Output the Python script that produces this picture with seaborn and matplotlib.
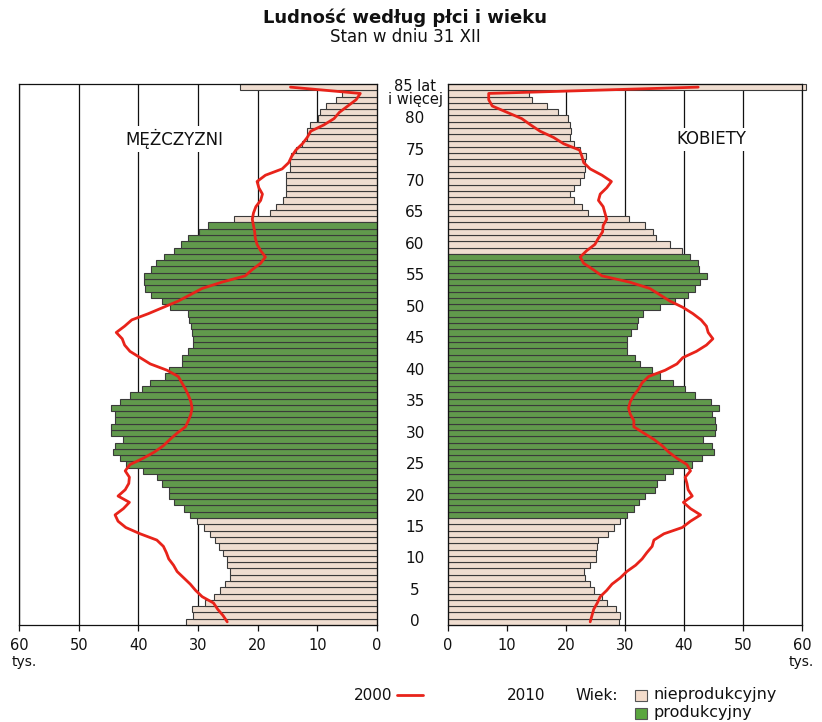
import numpy as np
import pandas as pd
import matplotlib
matplotlib.use('Agg')
import matplotlib.pyplot as plt
import matplotlib.transforms as mtransforms
from matplotlib.patches import Rectangle
from matplotlib.lines import Line2D
import seaborn as sns

sns.set_style('white')
plt.rcParams['font.family'] = ['DejaVu Sans']
plt.rcParams['text.color'] = '#111111'
plt.rcParams['xtick.labelcolor'] = '#111111'

# data (thousands of people), ages 0 .. 85 (last = 85 lat i wiecej)
ages = list(range(86))
age_ticks = [0, 5, 10, 15, 20, 25, 30, 35, 40, 45, 50, 55, 60, 65, 70, 75, 80]
x_ticks = [0, 10, 20, 30, 40, 50, 60]

male_2010 = [32.0, 30.8, 31.0, 28.8, 27.4, 26.3, 25.4, 24.7, 24.6, 25.1,
             25.1, 25.8, 26.5, 27.2, 28.0, 29.0, 30.2, 31.3, 32.4, 34.1,
             34.9, 34.9, 36.1, 36.9, 39.2, 42.0, 43.1, 44.2, 43.9, 42.6,
             44.5, 44.5, 43.9, 43.9, 44.5, 43.1, 41.4, 39.4, 38.0, 35.5,
             34.9, 32.7, 32.6, 31.7, 30.9, 30.9, 31.0, 31.2, 31.5, 31.7,
             34.7, 36.0, 37.9, 38.8, 39.0, 39.0, 37.9, 37.1, 35.7, 34.0,
             32.9, 31.7, 29.8, 28.4, 23.9, 17.9, 17.0, 15.8, 15.2, 15.2,
             15.3, 15.2, 14.6, 14.6, 14.4, 13.5, 12.6, 11.8, 11.8, 11.3,
             9.9, 9.6, 8.5, 6.8, 5.9, 22.9]

female_2010 = [28.9, 29.2, 28.5, 26.9, 26.1, 24.7, 24.1, 23.3, 23.0, 24.1,
               25.0, 25.0, 25.3, 25.5, 27.2, 28.1, 29.1, 30.3, 31.5, 32.3,
               33.4, 35.1, 35.4, 36.8, 38.2, 41.4, 43.1, 45.1, 44.7, 43.3,
               45.3, 45.5, 45.3, 44.7, 45.9, 44.5, 41.9, 40.2, 38.2, 36.0,
               34.6, 32.6, 31.7, 30.3, 30.3, 30.3, 31.1, 32.0, 32.2, 33.1,
               35.9, 38.4, 40.7, 41.8, 42.7, 43.9, 42.5, 42.4, 41.0, 39.7,
               37.6, 35.2, 34.8, 33.4, 30.6, 23.8, 22.7, 21.3, 20.6, 21.3,
               22.3, 23.0, 23.2, 23.2, 23.4, 22.3, 21.4, 20.6, 20.8, 20.7,
               20.4, 18.6, 16.7, 14.2, 13.8, 60.6]

male_2000 = [25.1, 25.8, 26.7, 27.4, 29.3, 30.4, 31.3, 32.4, 33.5, 34.1,
             34.9, 35.3, 35.8, 36.9, 39.7, 42.1, 43.4, 43.9, 42.5, 41.5,
             43.4, 42.2, 41.6, 41.5, 42.2, 41.4, 39.2, 37.3, 35.8, 34.7,
             33.5, 32.1, 31.6, 31.2, 31.0, 31.2, 31.6, 32.1, 32.7, 33.3,
             35.2, 38.0, 39.7, 41.4, 42.3, 42.7, 43.7, 42.3, 41.1, 38.3,
             35.8, 33.3, 31.3, 29.3, 26.0, 22.1, 20.9, 19.5, 18.7, 19.5,
             20.1, 20.4, 20.5, 20.7, 20.9, 20.7, 20.3, 19.5, 19.2, 19.8,
             20.1, 18.7, 15.9, 14.8, 14.3, 13.6, 12.5, 11.7, 11.1, 8.9,
             7.2, 6.3, 4.9, 3.5, 2.8, 14.5]

female_2000 = [24.1, 24.4, 24.7, 25.3, 25.8, 26.9, 27.8, 29.2, 30.3, 31.8,
               32.9, 33.7, 34.6, 34.9, 36.6, 39.7, 41.1, 42.8, 41.1, 39.9,
               41.4, 40.7, 40.5, 40.2, 41.1, 40.5, 38.8, 37.4, 36.3, 34.9,
               33.2, 31.5, 31.5, 30.9, 30.6, 30.9, 31.5, 32.3, 32.9, 34.0,
               36.8, 38.8, 39.8, 42.1, 43.8, 44.9, 44.1, 43.8, 42.9, 41.5,
               39.8, 37.6, 35.9, 34.2, 30.8, 26.1, 24.6, 23.0, 22.4, 23.5,
               24.9, 25.5, 26.2, 26.3, 26.9, 26.6, 26.3, 25.5, 25.8, 26.9,
               27.7, 26.1, 24.1, 23.0, 22.7, 22.3, 19.6, 17.9, 15.6, 14.0,
               12.5, 10.0, 7.5, 6.9, 6.9, 42.4]

# working-age range as drawn (first, last bar)
male_prod = (17, 63)
female_prod = (17, 58)

beige = '#f4dccb'
green = '#5ba63f'
red = '#e8231a'
edge = '#3a3a3a'
palette = {'nieprodukcyjny': beige, 'produkcyjny': green}


def group_labels(rng):
    return ['produkcyjny' if rng[0] <= a <= rng[1] else 'nieprodukcyjny' for a in ages]


df_m = pd.DataFrame({'wiek': ages, 'ludnosc': male_2010, 'grupa': group_labels(male_prod)})
df_f = pd.DataFrame({'wiek': ages, 'ludnosc': female_2010, 'grupa': group_labels(female_prod)})

fig = plt.figure(figsize=(8.22, 7.22), dpi=100)
W, H = 822, 722
ax_m = fig.add_axes([19 / W, 1 - 625 / H, (377 - 19) / W, (625 - 84) / H])
ax_f = fig.add_axes([448 / W, 1 - 625 / H, (802 - 448) / W, (625 - 84) / H])

for ax, df, line in [(ax_m, df_m, male_2000), (ax_f, df_f, female_2000)]:
    sns.barplot(data=df, x='ludnosc', y='wiek', hue='grupa', orient='y',
                native_scale=True, dodge=False, width=1, palette=palette,
                edgecolor=edge, linewidth=0.8, legend=False, ax=ax)
    for p in ax.patches:
        p.set_clip_on(False)
    sns.lineplot(x=line, y=ages, sort=False, estimator=None, color=red,
                 linewidth=2, ax=ax, zorder=5)
    ax.set_ylim(-0.5, 85.5)
    ax.set_yticks([])
    ax.set_xticks(x_ticks)
    ax.set_xlabel('')
    ax.set_ylabel('')
    ax.grid(axis='x', color='#111111', linewidth=0.9)
    ax.set_axisbelow(True)
    ax.tick_params(axis='x', direction='out', length=4, width=0.9,
                   color='#111111', labelsize=10.5, pad=5, bottom=True)
    for s in ax.spines.values():
        s.set_color('#111111')
        s.set_linewidth(0.9)

ax_m.set_xlim(60, 0)
ax_f.set_xlim(0, 60)

ax_m.text(34.0, 76.7, 'MĘŻCZYZNI', ha='center', va='center', fontsize=12,
          bbox=dict(facecolor='white', edgecolor='none', pad=2), zorder=6)
ax_f.text(44.7, 76.7, 'KOBIETY', ha='center', va='center', fontsize=12,
          bbox=dict(facecolor='white', edgecolor='none', pad=2), zorder=6)

# age labels between panels
cx = 415 / W
trans = mtransforms.blended_transform_factory(fig.transFigure, ax_m.transData)
for a in age_ticks:
    fig.text(cx, a, str(a), transform=trans, ha='center', va='center', fontsize=11)
fig.text(cx, 1 - 93 / H, '85 lat\ni więcej', ha='center', va='center',
         fontsize=10.5, linespacing=0.78)

# unit labels
fig.text(24 / W, 1 - 662 / H, 'tys.', ha='center', va='center', fontsize=10)
fig.text(801 / W, 1 - 662 / H, 'tys.', ha='center', va='center', fontsize=10)

# title
fig.text(405 / W, 1 - 18 / H, 'Ludność według płci i wieku', ha='center',
         va='center', fontsize=13, fontweight='bold')
fig.text(405 / W, 1 - 37 / H, 'Stan w dniu 31 XII', ha='center',
         va='center', fontsize=12)

# legend
y1 = 1 - 695 / H
y2 = 1 - 713 / H
fig.text(392 / W, y1, '2000', ha='right', va='center', fontsize=11)
fig.add_artist(Line2D([397 / W, 423 / W], [y1, y1], color=red, linewidth=2))
fig.text(507 / W, y1, '2010', ha='left', va='center', fontsize=11)
fig.text(575 / W, y1, 'Wiek:', ha='left', va='center', fontsize=11)
fig.add_artist(Rectangle((635 / W, y1 - 5.5 / H), 12 / W, 11 / H,
                         facecolor=beige, edgecolor='#555555', linewidth=0.8))
fig.text(653 / W, y1, 'nieprodukcyjny', ha='left', va='center', fontsize=11.5)
fig.add_artist(Rectangle((635 / W, y2 - 5.5 / H), 12 / W, 11 / H,
                         facecolor=green, edgecolor='#555555', linewidth=0.8))
fig.text(653 / W, y2, 'produkcyjny', ha='left', va='center', fontsize=11.5)

fig.savefig('out.png', dpi=100)
